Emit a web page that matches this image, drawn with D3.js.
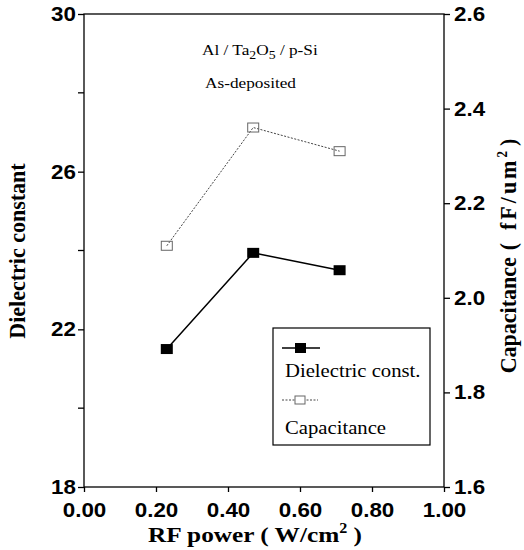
<!DOCTYPE html>
<html lang="en">
<head>
<meta charset="utf-8">
<title>Dielectric constant and capacitance vs RF power</title>
<script src="https://d3js.org/d3.v7.min.js"></script>
<style>
  body { margin: 0; background: #fff; }
  .tick text { font-family: "Liberation Sans", Arial, sans-serif; font-weight: bold; font-size: 20px; fill: #000; }
  .axis path, .axis line { stroke: #000; stroke-width: 1.3; }
  .title { font-family: "Liberation Serif", "Times New Roman", serif; font-weight: bold; font-size: 22px; }
  .note { font-family: "Liberation Serif", "Times New Roman", serif; font-size: 15px; }
  .leg { font-family: "Liberation Serif", "Times New Roman", serif; font-size: 18px; }
</style>
</head>
<body>
<script>
// data
var rfPower = [0.23, 0.47, 0.71];
var dielectric = [21.5, 23.94, 23.5];
var capacitance = [2.11, 2.36, 2.31];

var xTicks = [0, 0.2, 0.4, 0.6, 0.8, 1.0];
var yLeftTicks = [18, 22, 26, 30];
var yLeftMinor = [20, 24, 28];
var yRightTicks = [1.6, 1.8, 2.0, 2.2, 2.4, 2.6];

var w = 524, h = 550;
var pLeft = 84, pRight = 444, pTop = 14, pBottom = 487;
var sx = 1.15;   // the scanned figure is a bit wider than tall

var svg = d3.select("body").append("svg")
  .attr("width", w)
  .attr("height", h);

var x = d3.scaleLinear().domain([0, 1]).range([pLeft, pRight]);
var yL = d3.scaleLinear().domain([18, 30]).range([pBottom, pTop]);
var yR = d3.scaleLinear().domain([1.6, 2.6]).range([pBottom, pTop]);

// stretch a text horizontally around its own anchor point
function stretch(sel, s) {
  sel.each(function() {
    var t = d3.select(this);
    var tx = +t.attr("x") || 0, ty = +t.attr("y") || 0;
    t.attr("x", 0).attr("y", 0)
     .attr("transform", "translate(" + tx + "," + ty + ") scale(" + s + ",1)");
  });
}

// frame
svg.append("rect")
  .attr("x", pLeft).attr("y", pTop)
  .attr("width", pRight - pLeft).attr("height", pBottom - pTop)
  .attr("fill", "none").attr("stroke", "#000").attr("stroke-width", 1.3);

// bottom axis
var gx = svg.append("g").attr("class", "axis")
  .attr("transform", "translate(0," + pBottom + ")")
  .call(d3.axisBottom(x).tickValues(xTicks).tickSize(5).tickPadding(11)
    .tickFormat(d3.format(".2f")));
gx.select(".domain").remove();
stretch(gx.selectAll("text"), 1.12);

// left axis
var gl = svg.append("g").attr("class", "axis")
  .attr("transform", "translate(" + pLeft + ",0)")
  .call(d3.axisLeft(yL).tickValues(yLeftTicks).tickSize(6).tickPadding(2));
gl.select(".domain").remove();
stretch(gl.selectAll("text"), 1.12);
gl.selectAll(".minor").data(yLeftMinor).enter().append("line")
  .attr("x1", -6).attr("x2", 0)
  .attr("y1", function(d) { return yL(d); })
  .attr("y2", function(d) { return yL(d); });

// right axis
var gr = svg.append("g").attr("class", "axis")
  .attr("transform", "translate(" + pRight + ",0)")
  .call(d3.axisRight(yR).tickValues(yRightTicks).tickSize(6).tickPadding(4)
    .tickFormat(d3.format(".1f")));
gr.select(".domain").remove();
stretch(gr.selectAll("text"), 1.12);

// axis titles
svg.append("text").attr("class", "title")
  .attr("text-anchor", "middle")
  .attr("font-size", 24)
  .attr("transform", "translate(25,251) scale(1.05,1) rotate(-90)")
  .text("Dielectric constant");

var rt = svg.append("text").attr("class", "title")
  .attr("text-anchor", "middle")
  .attr("transform", "translate(516,256) scale(1.08,1) rotate(-90)")
  .text("Capacitance");
rt.append("tspan").attr("dx", 7).text("(");
rt.append("tspan").attr("dx", 13).attr("letter-spacing", 3).text("fF/um");
rt.append("tspan").attr("dy", -8).attr("font-size", 13).text("2");
rt.append("tspan").attr("dy", 8).attr("dx", 5).text(")");

var xt = svg.append("text").attr("class", "title")
  .attr("text-anchor", "middle")
  .attr("font-size", 23)
  .attr("transform", "translate(255,542) scale(" + sx + ",1)")
  .text("RF power ( W/cm");
xt.append("tspan").attr("dy", -9).attr("font-size", 14).text("2");
xt.append("tspan").attr("dy", 9).text(" )");

// annotation
var n1 = svg.append("text").attr("class", "note")
  .attr("transform", "translate(202,55) scale(" + sx + ",1)")
  .text("Al / Ta");
n1.append("tspan").attr("dy", 4).attr("font-size", 12).text("2");
n1.append("tspan").attr("dy", -4).text("O");
n1.append("tspan").attr("dy", 4).attr("font-size", 12).text("5");
n1.append("tspan").attr("dy", -4).text(" / p-Si");
svg.append("text").attr("class", "note")
  .attr("transform", "translate(205,88) scale(" + sx + ",1)")
  .text("As-deposited");

// capacitance series (right axis)
var capData = rfPower.map(function(d, i) { return [d, capacitance[i]]; });
svg.append("path").datum(capData)
  .attr("fill", "none").attr("stroke", "#444").attr("stroke-width", 1)
  .attr("stroke-dasharray", "2,1.5")
  .attr("d", d3.line().x(function(d) { return x(d[0]); }).y(function(d) { return yR(d[1]); }));
svg.selectAll(".cap").data(capData).enter().append("rect")
  .attr("x", function(d) { return x(d[0]) - 5.5; })
  .attr("y", function(d) { return yR(d[1]) - 4.5; })
  .attr("width", 11).attr("height", 9)
  .attr("fill", "none").attr("stroke", "#666").attr("stroke-width", 1);

// dielectric series (left axis)
var dielData = rfPower.map(function(d, i) { return [d, dielectric[i]]; });
svg.append("path").datum(dielData)
  .attr("fill", "none").attr("stroke", "#000").attr("stroke-width", 1.5)
  .attr("d", d3.line().x(function(d) { return x(d[0]); }).y(function(d) { return yL(d[1]); }));
svg.selectAll(".diel").data(dielData).enter().append("rect")
  .attr("x", function(d) { return x(d[0]) - 6; })
  .attr("y", function(d) { return yL(d[1]) - 5; })
  .attr("width", 12).attr("height", 10)
  .attr("fill", "#000");

// legend
var lg = svg.append("g").attr("transform", "translate(273,328)");
lg.append("rect").attr("width", 157).attr("height", 117)
  .attr("fill", "#fff").attr("stroke", "#000").attr("stroke-width", 1.2);
lg.append("line").attr("x1", 9).attr("x2", 47).attr("y1", 20).attr("y2", 20)
  .attr("stroke", "#000").attr("stroke-width", 1.5);
lg.append("rect").attr("x", 22).attr("y", 15).attr("width", 11).attr("height", 10).attr("fill", "#000");
lg.append("text").attr("class", "leg")
  .attr("transform", "translate(12,49) scale(" + sx + ",1)")
  .text("Dielectric const.");
lg.append("line").attr("x1", 9).attr("x2", 45).attr("y1", 72).attr("y2", 72)
  .attr("stroke", "#444").attr("stroke-width", 1).attr("stroke-dasharray", "2,1.5");
lg.append("rect").attr("x", 22).attr("y", 68).attr("width", 10).attr("height", 8)
  .attr("fill", "#fff").attr("stroke", "#666");
lg.append("text").attr("class", "leg")
  .attr("transform", "translate(12,106) scale(" + sx + ",1)")
  .text("Capacitance");
</script>
</body>
</html>
